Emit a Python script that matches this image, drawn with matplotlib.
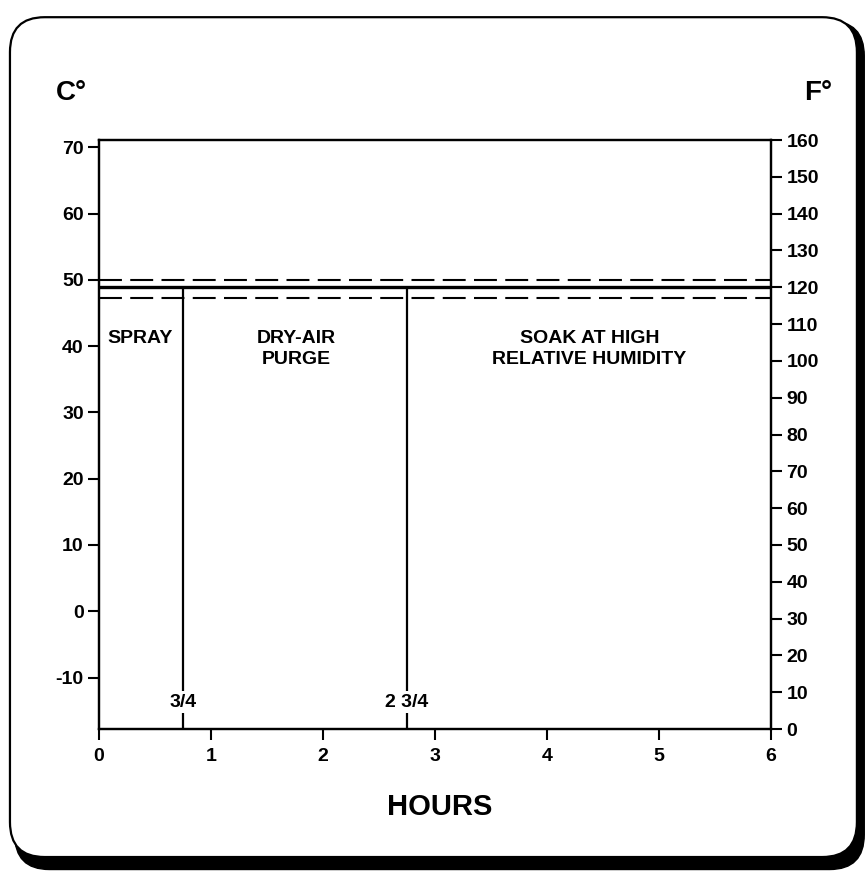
import matplotlib
matplotlib.use('Agg')
import matplotlib.pyplot as plt
from matplotlib.patches import FancyBboxPatch

plt.rcParams['font.family'] = ['Liberation Sans', 'DejaVu Sans']

# Data
hours_ticks = [0, 1, 2, 3, 4, 5, 6]
celsius_ticks = [-10, 0, 10, 20, 30, 40, 50, 60, 70]
fahrenheit_ticks = [0, 10, 20, 30, 40, 50, 60, 70, 80, 90, 100, 110, 120, 130, 140, 150, 160]
phase_bounds = [0.75, 2.75]          # hours where the phases change
phase_bound_labels = ['3/4', '2 3/4']
setpoint_c = 48.9                    # 120 F
band_upper_c = 50.0
band_lower_c = 47.2
phase_names = ['SPRAY', 'DRY-AIR\nPURGE', 'SOAK AT HIGH\nRELATIVE HUMIDITY']
phase_centers = [0.37, 1.76, 4.38]

f_min, f_max = 0, 160
c_min = (f_min - 32) / 1.8
c_max = (f_max - 32) / 1.8

fig = plt.figure(figsize=(8.66, 8.73), dpi=100)

# rounded frame with a dark shadow on the right / bottom
shadow = FancyBboxPatch((0.017, 0.004), 0.981, 0.972, boxstyle='round,pad=0,rounding_size=0.04',
                        transform=fig.transFigure, facecolor='black', edgecolor='black', zorder=-2)
panel = FancyBboxPatch((0.0115, 0.0183), 0.978, 0.962, boxstyle='round,pad=0,rounding_size=0.04',
                       transform=fig.transFigure, facecolor='white', edgecolor='black', lw=1.6, zorder=-1)
fig.patches.extend([shadow, panel])

ax = fig.add_axes([0.1143, 0.1649, 0.776, 0.6747])
ax.set_facecolor('none')
ax.set_xlim(0, 6)
ax.set_ylim(c_min, c_max)

ax2 = ax.twinx()
ax2.set_ylim(f_min, f_max)

for a in (ax, ax2):
    for s in a.spines.values():
        s.set_linewidth(1.6)

ax.set_xticks(hours_ticks)
ax.set_yticks(celsius_ticks)
ax2.set_yticks(fahrenheit_ticks)
tick_font = dict(fontsize=14, fontweight='bold')
ax.set_xticklabels([str(h) for h in hours_ticks], **tick_font)
ax.set_yticklabels([str(c) for c in celsius_ticks], **tick_font)
ax2.set_yticklabels([str(f) for f in fahrenheit_ticks], **tick_font)
ax.tick_params(axis='x', direction='out', length=8, width=1.5, pad=6)
ax.tick_params(axis='y', direction='out', length=8, width=1.5, pad=3)
ax2.tick_params(axis='y', direction='out', length=8, width=1.5, pad=3)

# set point and tolerance band
ax.axhline(setpoint_c, color='black', lw=2.4)
ax.axhline(band_upper_c, color='black', lw=1.5, linestyle=(0, (11, 4)))
ax.axhline(band_lower_c, color='black', lw=1.5, linestyle=(0, (11, 4)))

# phase boundaries
for xb, lab in zip(phase_bounds, phase_bound_labels):
    ax.vlines(xb, c_min, setpoint_c, color='black', lw=1.6)
    ax.text(xb, -13.7, lab, ha='center', va='center', fontsize=14, fontweight='bold',
            bbox=dict(facecolor='white', edgecolor='none', pad=1.5))

for xc, name in zip(phase_centers, phase_names):
    ax.text(xc, 42.4, name, ha='center', va='top', fontsize=14, fontweight='bold',
            linespacing=1.3)

fig.text(0.083, 0.893, 'C°', ha='center', va='center', fontsize=20, fontweight='bold')
fig.text(0.945, 0.893, 'F°', ha='center', va='center', fontsize=20, fontweight='bold')
fig.text(0.508, 0.0756, 'HOURS', ha='center', va='center', fontsize=21, fontweight='bold')

fig.savefig('out.png', dpi=100)
